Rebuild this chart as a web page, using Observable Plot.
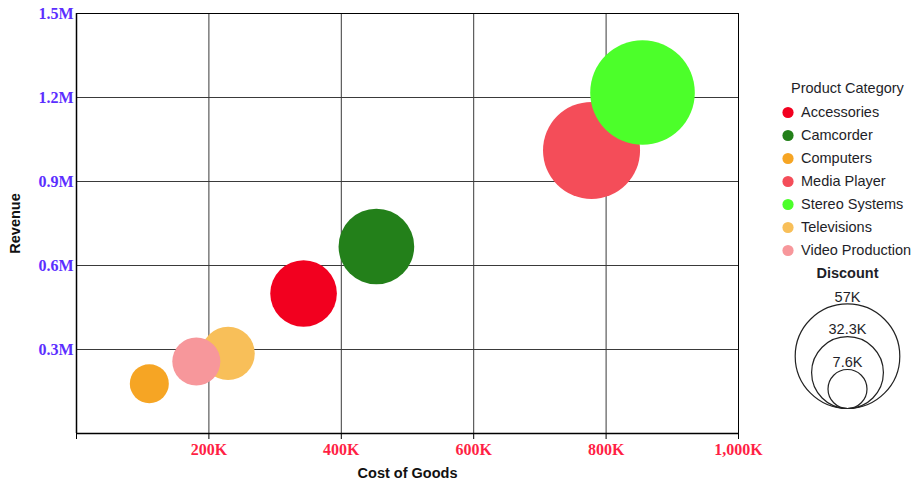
<!DOCTYPE html>
<html><head><meta charset="utf-8">
<script src="https://cdn.jsdelivr.net/npm/d3@7"></script>
<script src="https://cdn.jsdelivr.net/npm/@observablehq/plot@0.6"></script>
<style>
html,body{margin:0;padding:0;background:#fff;}
#wrap{position:relative;width:916px;height:482px;overflow:hidden;}
#wrap svg{position:absolute;overflow:visible;}
#main [aria-label^="y-axis"] text{fill:#5b2eff;font-family:"Liberation Serif","Times New Roman",serif;font-weight:bold;font-size:16px;}
#main [aria-label^="x-axis"] text{fill:#ff1f45;font-family:"Liberation Serif","Times New Roman",serif;font-weight:bold;font-size:16px;}
</style></head>
<body><div id="wrap"></div>
<script>
const categories = ["Accessories","Camcorder","Computers","Media Player","Stereo Systems","Televisions","Video Production"];
const costOfGoods = [343000, 453000, 110000, 778000, 855000, 229000, 181000];
const revenue = [500000, 668000, 178000, 1011000, 1218000, 286000, 257000];
const discount = [28400, 35200, 7600, 51300, 57000, 18400, 14400];
const colors = ["#f2001f","#23801a","#f6a524","#f44d59","#4cff2a","#f8bf59","#f7979b"];
const xTicks = [0, 200000, 400000, 600000, 800000, 1000000];
const yTicks = [0, 300000, 600000, 900000, 1200000, 1500000];
const discountLegend = [57000, 32300, 7600];

const data = categories.map((c, i) => ({category: c, cost: costOfGoods[i], revenue: revenue[i], discount: discount[i]}));

const rDomain = [7600, 57000];
const rRange = [19.5, 52.3];
const sans = "'Liberation Sans', Arial, sans-serif";
const wrap = document.getElementById("wrap");

const main = Plot.plot({
  width: 916, height: 482,
  marginLeft: 76, marginRight: 178, marginTop: 13, marginBottom: 49,
  style: {background: "transparent", color: "#000"},
  x: {domain: [0, 1000000], ticks: xTicks, tickSize: 6, tickPadding: 4, label: null,
      tickFormat: d => d === 0 ? "" : d3.format(",")(d / 1000) + "K"},
  y: {domain: [0, 1500000], ticks: yTicks, tickSize: 0, tickPadding: 3, label: null,
      tickFormat: d => d === 0 ? "" : (d / 1e6).toFixed(1) + "M"},
  r: {type: "linear", domain: rDomain, range: rRange},
  color: {domain: categories, range: colors},
  marks: [
    Plot.ruleX(xTicks, {stroke: "#3a3a3a", strokeWidth: 1}),
    Plot.ruleY(yTicks, {stroke: "#3a3a3a", strokeWidth: 1}),
    Plot.frame({stroke: "#000", strokeWidth: 1}),
    Plot.ruleX([0], {stroke: "#000", strokeWidth: 1.5}),
    Plot.ruleY([0], {stroke: "#000", strokeWidth: 1.5}),
    Plot.dot(data, {x: "cost", y: "revenue", r: "discount", fill: "category", stroke: null, sort: null}),
    Plot.text(["Revenue"], {text: d => d, frameAnchor: "left", dx: -61, rotate: -90, lineAnchor: "middle",
      textAnchor: "middle", fontWeight: "bold", fontSize: 14.5, fontFamily: sans, fill: "#111"}),
    Plot.text(["Cost of Goods"], {text: d => d, frameAnchor: "bottom", dy: 40, lineAnchor: "middle",
      textAnchor: "middle", fontWeight: "bold", fontSize: 14.5, fontFamily: sans, fill: "#111"})
  ]
});
main.id = "main";
main.style.left = "0px"; main.style.top = "0px";
wrap.appendChild(main);

// Colour legend
const legend1 = Plot.plot({
  width: 146, height: 190, margin: 0,
  style: {background: "transparent"},
  y: {type: "point", domain: categories, range: [36, 175], padding: 0, axis: null},
  color: {domain: categories, range: colors},
  marks: [
    Plot.text(["Product Category"], {text: d => d, frameAnchor: "top-left", dx: 20.5, dy: 12.5, lineAnchor: "middle",
      textAnchor: "start", fontSize: 14.5, fontFamily: sans, fill: "#1e1e28"}),
    Plot.dot(categories, {y: d => d, fill: d => d, r: 5.6, frameAnchor: "left", dx: 17.5}),
    Plot.text(categories, {y: d => d, text: d => d, frameAnchor: "left", dx: 30.5, textAnchor: "start",
      lineAnchor: "middle", fontSize: 14.5, fontFamily: sans, fill: "#1e1e28"})
  ]
});
legend1.style.left = "770px"; legend1.style.top = "75px";
wrap.appendChild(legend1);

// Size legend
const B = 150;
const rScale = d3.scaleLinear().domain(rDomain).range(rRange);
const legend2 = Plot.plot({
  width: 134, height: 155, margin: 0,
  style: {background: "transparent"},
  y: {domain: rDomain, range: rRange.map(r => B - r), axis: null},
  r: {type: "linear", domain: rDomain, range: rRange},
  marks: [
    Plot.text(["Discount"], {text: d => d, frameAnchor: "top", dy: 15, lineAnchor: "middle",
      fontWeight: "bold", fontSize: 14.5, fontFamily: sans, fill: "#1e1e28"}),
    Plot.dot(discountLegend, {y: d => d, r: d => d, fill: "none", stroke: "#222", strokeWidth: 1.2, sort: null}),
    ...discountLegend.map(v => Plot.text([v], {y: d => d, text: d => +(d / 1000).toFixed(1) + "K",
      dy: -rScale(v) - 7, lineAnchor: "middle", fontSize: 14.5, fontFamily: sans, fill: "#1e1e28"}))
  ]
});
legend2.style.left = "780px"; legend2.style.top = "258px";
wrap.appendChild(legend2);
</script>
</body></html>
